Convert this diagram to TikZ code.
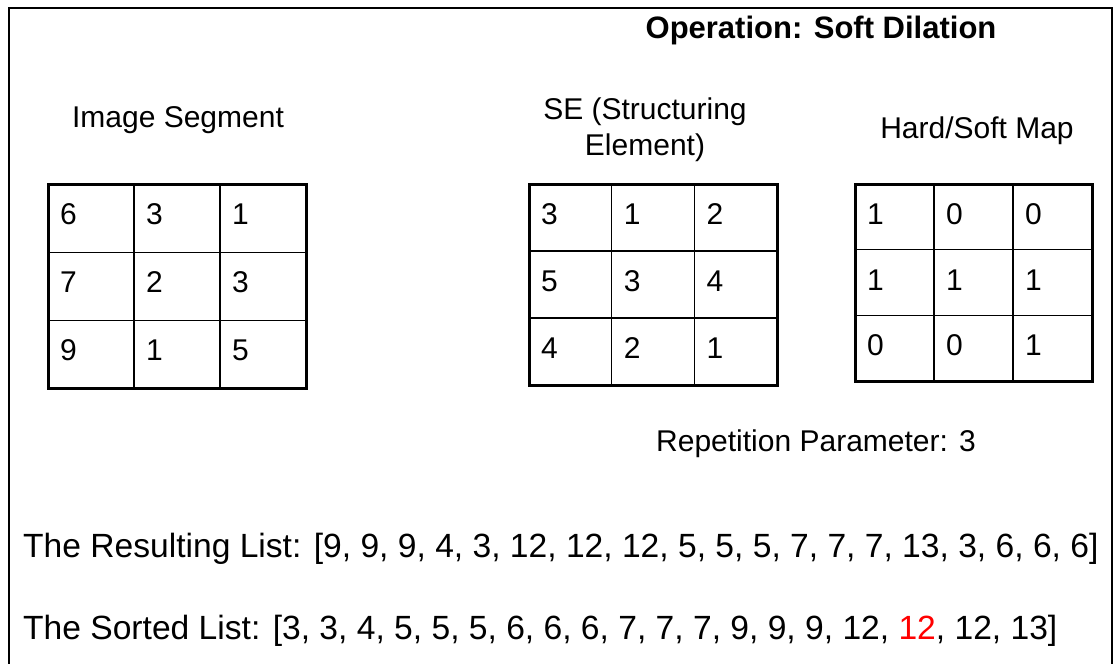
\documentclass[tikz,border=0pt]{standalone}
\usepackage{fontspec}
\setmainfont{Liberation Sans}
\usetikzlibrary{positioning}
\newcommand{\digitfont}{\fontsize{30}{36}\selectfont}
\newcommand{\capfont}{\fontsize{30}{36}\selectfont}
\newcommand{\listfont}{\fontsize{33.6}{40}\selectfont}
\tikzset{cellnum/.style={anchor=west, inner sep=0pt, font=\digitfont}}
\tikzset{gridout/.style={draw, line width=3pt}}
\tikzset{gridin/.style={draw, line width=1.3pt}}
\tikzset{gridcap/.style={font=\capfont, align=center, inner sep=0pt}}
\tikzset{listline/.style={font=\listfont, anchor=west, inner sep=0pt}}

% name, left, top, cell width, cell height, entries
\newcommand{\numgrid}[6]{%
  \begin{scope}[shift={(#2,#3)}]
    \foreach \k in {1,2} {
      \draw[gridin] (\k*#4,0) -- (\k*#4,3*#5);
      \draw[gridin] (0,\k*#5) -- (3*#4,\k*#5);
    }
    \draw[gridout] (0,0) rectangle (3*#4,3*#5);
    \foreach \v [count=\k from 0] in {#6} {
      \pgfmathtruncatemacro\r{\k/3}
      \pgfmathtruncatemacro\c{mod(\k,3)}
      \node[cellnum] (#1-\r-\c) at ({\c*#4+12},{\r*#5+30}) {\v};
    }
  \end{scope}}

\begin{document}
\begin{tikzpicture}[x=1pt, y=-1pt]
        \useasboundingbox[fill=white] (0,0) rectangle (1120,664);

        % frame
        \draw[line width=1.5pt] (1112,664) -- (1112,8) -- (9,8);
        \draw[line width=2.5pt] (9,7.3) -- (9,664);

        \node[font=\fontsize{31}{36}\selectfont\bfseries, inner sep=0pt] (title) at (821,30) {Operation: Soft Dilation};

        \node[gridcap] (segcap) at (178,120) {Image Segment};
        \node[gridcap] (secap) at (645,130) {SE (Structuring\\Element)};
        \node[gridcap] (mapcap) at (977,131) {Hard/Soft Map};

        \numgrid{seg}{48}{184}{86}{68.3}{6,3,1,7,2,3,9,1,5}
        \numgrid{se}{529}{184}{82.7}{67}{3,1,2,5,3,4,4,2,1}
        \numgrid{map}{855}{184}{79}{65.7}{1,0,0,1,1,1,0,0,1}

        \node[gridcap] (rep) at (816,444) {Repetition Parameter: 3};

        \node[listline] (result) at (23,549) {The Resulting List: [9, 9, 9, 4, 3, 12, 12, 12, 5, 5, 5, 7, 7, 7, 13, 3, 6, 6, 6]};
        \node[listline] (sorted) at (23,631) {The Sorted List: [3, 3, 4, 5, 5, 5, 6, 6, 6, 7, 7, 7, 9, 9, 9, 12, {\color{red}12}, 12, 13]};
\end{tikzpicture}
\end{document}
